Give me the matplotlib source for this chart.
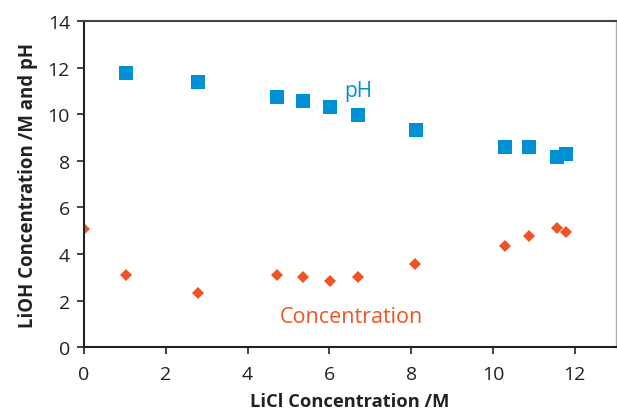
import matplotlib
matplotlib.use("Agg")
import matplotlib.pyplot as plt

# LiCl concentration (M) for each sample
licl_ph = [1.03, 2.79, 4.71, 5.35, 6.01, 6.71, 8.11, 10.30, 10.89, 11.57, 11.79]
ph = [11.75, 11.36, 10.72, 10.55, 10.29, 9.98, 9.34, 8.57, 8.57, 8.14, 8.27]

licl_conc = [0.0, 1.03, 2.79, 4.71, 5.35, 6.01, 6.71, 8.10, 10.30, 10.89, 11.57, 11.79]
lioh_conc = [5.05, 3.10, 2.33, 3.09, 3.00, 2.85, 3.00, 3.59, 4.35, 4.79, 5.12, 4.95]

x_ticks = [0, 2, 4, 6, 8, 10, 12]
y_ticks = [0, 2, 4, 6, 8, 10, 12, 14]

blue = "#0091d5"
orange = "#f05423"

plt.rcParams["font.family"] = ["Open Sans", "DejaVu Sans"]

fig = plt.figure(figsize=(6.17, 4.14), dpi=100)
ax = fig.add_axes([0.136, 0.159, 0.862, 0.788])

ax.plot(licl_ph, ph, "s", color=blue, markersize=9.4, markeredgewidth=0)
ax.plot(licl_conc, lioh_conc, "D", color=orange, markersize=6.3, markeredgewidth=0)

ax.text(6.37, 11.0, "pH", color=blue, fontsize=15, va="center", ha="left")
ax.text(4.78, 1.33, "Concentration", color=orange, fontsize=15.5, va="center", ha="left")

ax.set_xlim(0, 13)
ax.set_ylim(0, 14)
ax.set_xticks(x_ticks)
ax.set_yticks(y_ticks)
ax.tick_params(axis="x", labelsize=14, colors="#222222", length=5, width=1.2,
               direction="out", pad=8)
ax.tick_params(axis="y", labelsize=14, colors="#222222", length=5, width=1.2,
               direction="out", pad=5)

for side in ("left", "bottom"):
    ax.spines[side].set_color("#222222")
    ax.spines[side].set_linewidth(1.5)
ax.spines["top"].set_color("#444444")
ax.spines["top"].set_linewidth(1.5)
ax.spines["right"].set_color("#aaaaaa")
ax.spines["right"].set_linewidth(1.0)

ax.set_xlabel("LiCl Concentration /M", fontsize=13.2, fontweight="bold", color="#222222", labelpad=6)
ax.set_ylabel("LiOH Concentration /M and pH", fontsize=13.4, fontweight="bold", color="#222222", labelpad=7)

fig.savefig("out.png", dpi=100)
